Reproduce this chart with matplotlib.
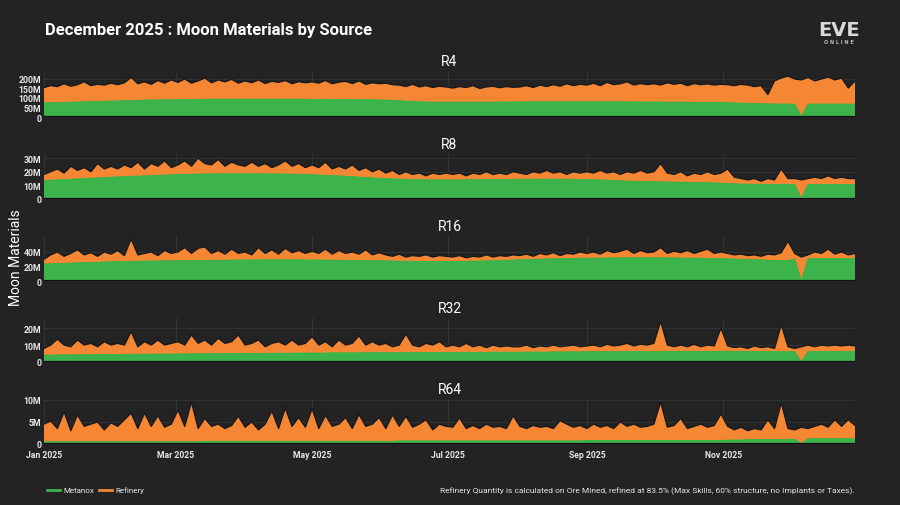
import matplotlib
matplotlib.use("Agg")
import matplotlib.pyplot as plt
import matplotlib.dates as mdates
from matplotlib.ticker import FuncFormatter
import numpy as np
import pandas as pd

dates = pd.date_range("2025-01-01", periods=122, freq="3D")

r4_metanox = [74, 75, 76, 77, 78, 79, 80, 81, 82, 83, 84,
              85, 86, 87, 88, 89, 90, 90, 91, 91,
              92, 92, 93, 93, 93, 94, 94, 94, 94, 94,
              94, 94, 94, 94, 94, 94, 94, 94, 94, 93,
              93, 93, 93, 93, 92, 92, 92, 92, 91, 91, 90,
              89, 88, 86, 84, 82, 80, 79, 78, 78, 78,
              78, 78, 78, 78, 78, 78, 78, 79, 79, 79,
              79, 80, 80, 80, 80, 80, 80, 80, 80, 80,
              80, 80, 80, 80, 80, 80, 80, 79, 79, 79,
              79, 79, 78, 78, 78, 78, 77, 77, 77, 76, 76,
              75, 74, 73, 72, 71, 70, 69, 69, 68,
              68, 68, 5, 68, 68, 68, 68, 68, 68, 68, 68]
r4_refinery = [81, 90, 84, 98, 84, 91, 105, 84, 90, 85, 94,
               85, 94, 121, 87, 96, 82, 102, 87, 104,
               90, 108, 85, 97, 112, 86, 101, 91, 104, 84,
               96, 86, 101, 82, 94, 88, 98, 81, 92, 87,
               92, 85, 99, 82, 91, 96, 84, 98, 81, 89, 85,
               89, 82, 82, 76, 90, 78, 86, 77, 84, 80,
               74, 82, 77, 87, 72, 80, 84, 75, 81, 77,
               79, 85, 75, 88, 80, 90, 82, 95, 85, 92,
               88, 98, 85, 102, 90, 95, 105, 89, 97, 91,
               96, 89, 102, 94, 100, 87, 99, 93, 97, 92, 96,
               95, 91, 99, 96, 89, 95, 49, 121, 137,
               147, 132, 190, 140, 122, 132, 142, 127, 137, 84, 122]

r8_metanox = [13.5, 13.8, 14.0, 14.3, 14.5, 14.8, 15.0, 15.3, 15.5, 15.8, 16.0,
              16.2, 16.4, 16.6, 16.8, 17.0, 17.2, 17.4, 17.6, 17.8,
              18.0, 18.1, 18.2, 18.3, 18.4, 18.4, 18.5, 18.5, 18.5, 18.5,
              18.5, 18.5, 18.5, 18.4, 18.4, 18.4, 18.3, 18.2, 18.1, 18.0,
              17.8, 17.6, 17.4, 17.2, 17.0, 16.7, 16.4, 16.1, 15.8, 15.5, 15.2,
              15.0, 14.8, 14.6, 14.4, 14.3, 14.2, 14.1, 14.0, 14.0, 14.0,
              14.0, 14.0, 14.1, 14.1, 14.2, 14.2, 14.3, 14.3, 14.4, 14.4,
              14.5, 14.5, 14.5, 14.6, 14.6, 14.6, 14.6, 14.5, 14.5, 14.4,
              14.3, 14.2, 14.0, 13.8, 13.6, 13.4, 13.2, 13.0, 12.9, 12.8,
              12.7, 12.6, 12.5, 12.4, 12.3, 12.2, 12.1, 12.0, 11.9, 11.8, 11.6,
              11.4, 11.2, 11.0, 10.9, 10.8, 10.8, 10.7, 10.7, 10.7,
              10.7, 10.7, 0.5, 10.7, 10.7, 10.7, 10.7, 10.7, 10.7, 10.7, 10.7]
r8_refinery = [4.5, 6.2, 8.0, 4.7, 9.5, 6.2, 8.0, 4.7, 10.5, 6.2, 8.0,
               5.8, 8.6, 6.4, 10.2, 5.0, 8.8, 6.6, 10.4, 5.2,
               7.0, 9.9, 5.8, 11.7, 7.6, 6.6, 10.5, 5.5, 8.5, 6.5,
               5.5, 8.5, 5.5, 7.6, 4.6, 6.6, 9.7, 5.8, 7.9, 5.0,
               7.2, 5.4, 9.6, 4.8, 7.0, 5.3, 8.6, 4.9, 7.2, 4.5, 6.8,
               4.0, 6.2, 3.4, 5.6, 3.7, 4.8, 2.9, 5.0, 4.0, 5.0,
               4.0, 5.0, 2.9, 4.9, 3.8, 5.8, 3.7, 4.7, 3.6, 5.6,
               4.5, 3.5, 5.5, 4.4, 6.4, 4.4, 5.4, 3.5, 5.5, 4.6,
               5.7, 4.8, 7.0, 5.2, 6.4, 4.6, 6.8, 6.0, 8.1, 6.2,
               7.3, 13.4, 6.5, 5.6, 7.7, 4.8, 6.9, 6.0, 8.1, 6.2, 7.4,
               10.6, 4.8, 4.0, 3.1, 4.2, 2.2, 4.3, 3.3, 11.3,
               4.3, 4.3, 13.5, 4.3, 5.3, 4.3, 6.3, 4.3, 5.3, 4.3, 4.3]

r16_metanox = [23.5, 23.8, 24.1, 24.4, 24.7, 25.0, 25.3, 25.6, 25.9, 26.2, 26.5,
               26.7, 26.9, 27.1, 27.3, 27.5, 27.6, 27.7, 27.8, 27.9,
               28.0, 28.1, 28.2, 28.3, 28.4, 28.5, 28.6, 28.7, 28.8, 28.9,
               29.0, 29.0, 29.1, 29.1, 29.2, 29.2, 29.2, 29.2, 29.1, 29.0,
               29.0, 28.9, 28.8, 28.7, 28.6, 28.5, 28.4, 28.3, 28.2, 28.1, 28.0,
               27.8, 27.6, 27.4, 27.2, 27.0, 26.9, 26.8, 26.8, 26.8, 26.8,
               26.9, 27.0, 27.2, 27.4, 27.6, 27.8, 28.0, 28.3, 28.6, 28.9,
               29.2, 29.5, 29.8, 30.1, 30.4, 30.6, 30.8, 31.0, 31.2, 31.3,
               31.4, 31.5, 31.6, 31.7, 31.8, 31.9, 32.0, 32.0, 32.0, 32.0,
               32.0, 32.0, 31.9, 31.8, 31.7, 31.6, 31.5, 31.4, 31.2, 31.0, 30.8,
               30.6, 30.3, 30.0, 29.7, 29.4, 29.0, 28.7, 28.4, 28.2,
               28.0, 30.5, 1.0, 30.8, 30.8, 30.8, 30.8, 30.8, 30.8, 30.8, 30.8]
r16_refinery = [6.5, 12.2, 15.9, 9.6, 13.3, 18.0, 10.7, 13.4, 8.1, 13.8, 10.5,
                15.3, 8.1, 30.9, 8.7, 10.5, 12.4, 7.3, 14.2, 10.1,
                12.0, 17.9, 9.8, 16.7, 18.6, 9.5, 13.4, 8.3, 15.2, 9.1,
                11.0, 7.0, 16.9, 8.9, 13.8, 7.8, 15.8, 9.8, 12.9, 9.0,
                12.0, 9.1, 15.2, 8.3, 13.4, 9.5, 11.6, 8.7, 14.8, 7.9, 11.0,
                8.2, 6.4, 9.6, 5.8, 8.0, 7.1, 9.2, 6.2, 8.2, 7.2,
                6.1, 8.0, 4.8, 6.6, 5.4, 8.2, 5.0, 6.7, 5.4, 7.1,
                5.8, 7.5, 4.2, 7.9, 5.6, 8.4, 4.2, 7.0, 5.8, 8.7,
                6.6, 8.5, 5.4, 10.3, 7.2, 9.1, 12.0, 6.0, 10.0, 7.0,
                8.0, 14.0, 6.1, 9.2, 7.3, 10.4, 6.5, 9.6, 12.8, 7.0, 9.2,
                7.4, 5.7, 7.0, 5.3, 6.6, 5.0, 8.3, 7.6, 10.8,
                27.0, 7.5, 32.0, 5.2, 9.2, 7.2, 13.2, 6.2, 9.2, 5.2, 7.2]

r32_metanox = [4.1, 4.1, 4.2, 4.2, 4.2, 4.3, 4.3, 4.3, 4.4, 4.4, 4.4,
               4.5, 4.5, 4.5, 4.6, 4.6, 4.6, 4.7, 4.7, 4.7,
               4.8, 4.8, 4.8, 4.9, 4.9, 4.9, 5.0, 5.0, 5.0, 5.0,
               5.1, 5.1, 5.1, 5.1, 5.2, 5.2, 5.2, 5.2, 5.3, 5.3,
               5.3, 5.3, 5.3, 5.4, 5.4, 5.4, 5.4, 5.4, 5.5, 5.5, 5.5,
               5.5, 5.5, 5.5, 5.5, 5.6, 5.6, 5.6, 5.6, 5.6, 5.6,
               5.6, 5.7, 5.7, 5.7, 5.7, 5.7, 5.8, 5.8, 5.8, 5.8,
               5.8, 5.9, 5.9, 5.9, 5.9, 6.0, 6.0, 6.0, 6.0, 6.0,
               6.1, 6.1, 6.1, 6.1, 6.1, 6.2, 6.2, 6.2, 6.2, 6.2,
               6.2, 6.3, 6.3, 6.3, 6.3, 6.3, 6.3, 6.3, 6.3, 6.3, 6.3,
               6.3, 6.3, 6.3, 6.3, 6.2, 6.2, 6.2, 6.2, 6.1,
               6.1, 6.1, 0.3, 6.2, 6.2, 6.2, 6.2, 6.2, 6.2, 6.2, 6.2]
r32_refinery = [3.9, 5.9, 9.3, 5.8, 4.8, 8.7, 5.7, 6.7, 4.6, 7.6, 5.6,
                6.5, 5.5, 13.5, 4.4, 7.4, 5.4, 8.3, 5.3, 6.3,
                7.2, 5.2, 11.2, 6.1, 8.1, 5.1, 9.0, 6.0, 7.0, 11.0,
                4.9, 5.9, 7.9, 3.9, 5.8, 6.8, 4.8, 7.8, 4.7, 5.7,
                9.7, 4.7, 6.7, 3.6, 7.6, 4.6, 5.6, 10.1, 4.5, 6.5, 4.5,
                5.5, 3.5, 4.5, 11.0, 4.4, 3.4, 5.4, 4.4, 6.4, 3.4,
                4.4, 3.3, 5.3, 3.3, 4.3, 2.8, 4.2, 3.2, 3.7, 3.2,
                3.2, 4.1, 2.6, 3.6, 3.1, 4.0, 3.0, 3.5, 4.0, 3.0,
                3.4, 3.9, 2.9, 4.4, 3.4, 3.8, 4.8, 3.3, 4.3, 3.8,
                4.8, 17.7, 3.7, 2.7, 3.7, 2.7, 4.2, 2.7, 3.7, 3.2, 13.7,
                3.2, 2.2, 2.7, 1.7, 3.3, 2.3, 2.8, 1.8, 15.9,
                2.9, 1.9, 8.7, 3.8, 2.8, 3.8, 3.3, 3.8, 3.3, 3.8, 3.3]

r64_metanox = [0.5, 0.5, 0.5, 0.5, 0.5, 0.5, 0.5, 0.5, 0.5, 0.5, 0.5,
               0.5, 0.5, 0.5, 0.5, 0.5, 0.5, 0.5, 0.5, 0.5,
               0.5, 0.5, 0.5, 0.5, 0.6, 0.6, 0.6, 0.6, 0.6, 0.6,
               0.6, 0.6, 0.6, 0.6, 0.6, 0.6, 0.6, 0.6, 0.6, 0.6,
               0.6, 0.6, 0.6, 0.6, 0.6, 0.6, 0.6, 0.6, 0.6, 0.6, 0.6,
               0.6, 0.6, 0.7, 0.7, 0.7, 0.7, 0.7, 0.7, 0.7, 0.7,
               0.7, 0.7, 0.7, 0.7, 0.7, 0.7, 0.7, 0.7, 0.7, 0.7,
               0.7, 0.7, 0.7, 0.7, 0.7, 0.7, 0.7, 0.7, 0.7, 0.7,
               0.8, 0.8, 0.8, 0.8, 0.8, 0.8, 0.8, 0.8, 0.8, 0.8,
               0.8, 0.8, 0.8, 0.8, 0.8, 0.8, 0.8, 0.8, 0.8, 0.8, 0.8,
               0.9, 0.9, 0.9, 1.0, 1.0, 1.0, 1.0, 1.0, 1.0,
               1.0, 1.1, 0.1, 1.2, 1.2, 1.2, 1.2, 1.2, 1.2, 1.2, 1.2]
r64_refinery = [4.0, 4.7, 3.0, 6.8, 2.5, 6.1, 3.5, 4.0, 4.5, 2.7, 4.3,
                3.5, 5.0, 6.5, 3.0, 6.5, 3.5, 5.9, 3.3, 4.0,
                7.2, 3.5, 9.0, 3.0, 5.2, 3.4, 3.9, 2.9, 3.6, 5.7,
                3.2, 4.4, 2.6, 3.9, 6.9, 2.9, 7.5, 3.4, 5.4, 3.2,
                7.4, 2.9, 5.9, 3.4, 3.9, 5.4, 2.9, 6.1, 3.4, 3.9, 5.4,
                2.9, 6.0, 3.3, 5.6, 3.1, 3.8, 4.8, 2.5, 3.8, 3.3,
                3.1, 5.2, 2.8, 3.5, 2.8, 3.8, 3.1, 3.3, 2.8, 5.7,
                3.3, 2.8, 3.5, 3.1, 3.3, 2.8, 4.6, 3.8, 3.1, 3.5,
                2.7, 3.7, 3.0, 3.4, 2.7, 4.2, 3.2, 3.7, 3.0, 3.2,
                3.7, 8.7, 3.0, 3.4, 5.0, 2.7, 3.2, 3.7, 3.0, 3.4, 6.0,
                3.1, 2.3, 2.9, 2.0, 2.5, 2.2, 4.5, 2.5, 8.3,
                2.5, 2.1, 3.7, 2.3, 2.8, 3.3, 2.6, 4.3, 2.8, 4.3, 3.0]

panel_names = ["R4", "R8", "R16", "R32", "R64"]
panel_ticks = [[0, 50, 100, 150, 200], [0, 10, 20, 30], [0, 20, 40], [0, 10, 20], [0, 5, 10]]
panel_ymax = [242, 33, 62, 26, 10.2]
panels = [(r4_metanox, r4_refinery), (r8_metanox, r8_refinery), (r16_metanox, r16_refinery),
          (r32_metanox, r32_refinery), (r64_metanox, r64_refinery)]

BG = "#232323"
GREEN = "#3cb44b"
ORANGE = "#f58634"
GRID = "#333333"
FONT = ["Roboto", "DejaVu Sans"]

fig = plt.figure(figsize=(9, 5.06), dpi=100, facecolor=BG)

# panel pixel extents (top, bottom) in a 506 px tall figure
extents = [(72, 118), (155, 200), (237, 282), (319, 363), (400, 445)]
left, right = 44 / 900, 855 / 900

def fmt_m(v, pos):
    return "0" if v == 0 else "{:g}M".format(v)

axes = []
for k, (name, (met, ref)) in enumerate(zip(panel_names, panels)):
    top, bot = extents[k]
    ax = fig.add_axes([left, 1 - bot / 506, right - left, (bot - top) / 506])
    ax.set_facecolor(BG)
    ax.stackplot(dates, met, ref, colors=[GREEN, ORANGE], linewidth=0)
    total = np.add(met, ref)
    ax.plot(dates, met, color="#2fbf4a", lw=0.6)
    ax.plot(dates, total, color="#15171c", lw=0.9)
    ax.axhline(0, color="#170d1a", lw=1.6, zorder=5)

    ax.set_xlim(dates[0], dates[-1])
    ax.set_ylim(0, panel_ymax[k])
    ax.set_yticks(panel_ticks[k])
    ax.yaxis.set_major_formatter(FuncFormatter(fmt_m))
    ax.xaxis.set_major_locator(mdates.MonthLocator(bymonth=[1, 3, 5, 7, 9, 11]))
    ax.xaxis.set_major_formatter(mdates.DateFormatter("%b %Y"))
    ax.grid(True, color=GRID, lw=0.8)
    ax.set_axisbelow(True)
    for s in ax.spines.values():
        s.set_visible(False)
    ax.tick_params(axis="y", length=0, pad=2, colors="#e6e6e6", labelsize=6.3)
    ax.tick_params(axis="x", length=0, pad=4, colors="#e6e6e6", labelsize=6.2)
    for lab in ax.get_yticklabels() + ax.get_xticklabels():
        lab.set_family(FONT)
        lab.set_fontweight("bold")
    if k < 4:
        ax.tick_params(labelbottom=False)
    ax.set_title(name, color="white", fontsize=10, family=FONT, pad=4)
    axes.append(ax)

fig.text(45 / 900, 1 - 30 / 506, "December 2025 : Moon Materials by Source", color="white",
         fontsize=12, fontweight="bold", family=FONT, va="center", ha="left")
fig.text(16 / 900, 1 - 258 / 506, "Moon Materials", color="white", fontsize=10,
         family=FONT, rotation=90, va="center", ha="center")

# EVE Online logo as text
fig.text(839 / 900, 1 - 31 / 506, "EVE", color="#d9d9d9", fontsize=14, fontweight="bold",
         family="DejaVu Sans", ha="center", va="center")
fig.text(839 / 900, 1 - 42 / 506, "O N L I N E", color="#bbbbbb", fontsize=3.5,
         fontweight="bold", family="DejaVu Sans", ha="center", va="center")

# legend
leg_y = 1 - 491 / 506
fig.lines.append(plt.Line2D([47 / 900, 60 / 900], [leg_y, leg_y], color=GREEN, lw=2,
                            transform=fig.transFigure))
fig.text(63 / 900, leg_y, "Metanox", color="#e6e6e6", fontsize=5.8, family=FONT,
         va="center", ha="left")
fig.lines.append(plt.Line2D([99 / 900, 112 / 900], [leg_y, leg_y], color=ORANGE, lw=2,
                            transform=fig.transFigure))
fig.text(115 / 900, leg_y, "Refinery", color="#e6e6e6", fontsize=5.8, family=FONT,
         va="center", ha="left")

fig.text(855 / 900, leg_y,
         "Refinery Quantity is calculated on Ore Mined, refined at 83.5% (Max Skills, 60% structure, no Implants or Taxes).",
         color="#e6e6e6", fontsize=6, family=FONT, va="center", ha="right")

fig.savefig("out.png", dpi=100, facecolor=BG)
